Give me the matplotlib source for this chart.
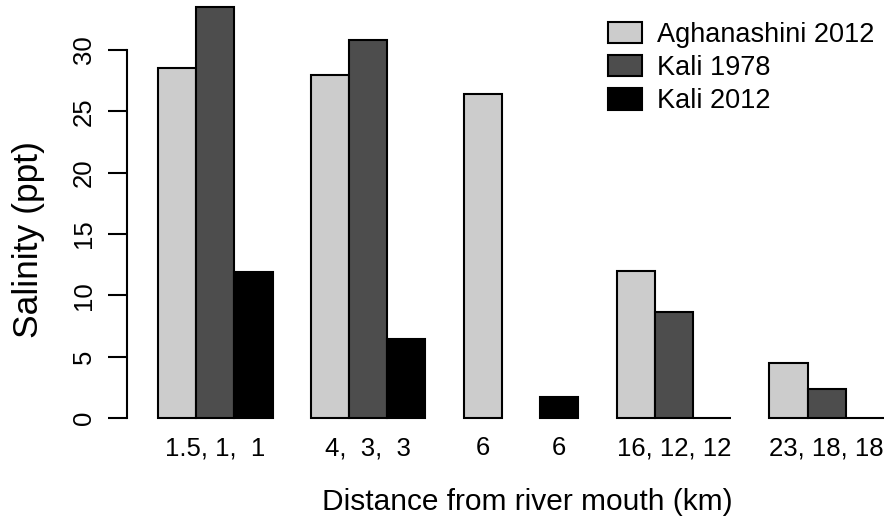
import matplotlib
matplotlib.use("Agg")
import matplotlib.pyplot as plt
from matplotlib.patches import Patch
import numpy as np

plt.rcParams['font.family'] = ['Liberation Sans', 'DejaVu Sans']

series = ["Aghanashini 2012", "Kali 1978", "Kali 2012"]
colors = ["#cccccc", "#4d4d4d", "#000000"]
# values per group (NaN = no bar)
aghanashini_2012 = [28.55, 28.0, 26.4, 12.0, 4.5]
kali_1978 = [33.5, 30.8, np.nan, 8.65, 2.4]
kali_2012 = [11.9, 6.4, 1.7, 0.0, 0.0]
values = [aghanashini_2012, kali_1978, kali_2012]

# tick labels: (group index, bar index or None for group centre, text)
tick_specs = [(0, None, "1.5, 1,  1"),
              (1, None, "4,  3,  3"),
              (2, 0, "6"),
              (2, 2, "6"),
              (3, None, "16, 12, 12"),
              (4, None, "23, 18, 18")]

W, H = 894, 523
fig = plt.figure(figsize=(W / 100, H / 100), dpi=100)

# pixel geometry
ax_left_px, ax_bottom_px = 127, 434.4
ax = fig.add_axes([ax_left_px / W, (H - ax_bottom_px) / H, (W - ax_left_px) / W, ax_bottom_px / H])

xpx = 38.21  # px per bar unit
x_first = 158
ax.set_xlim(1 - (x_first - ax_left_px) / xpx, 1 + (W - x_first) / xpx)
ypx = 12.267
y0 = 418
ax.set_ylim(-(ax_bottom_px - y0) / ypx, y0 / ypx)

ngroups = len(aghanashini_2012)
nser = len(series)
def bar_left(g, j):
    return 1 + g * (nser + 1) + j

for j, (vals, c) in enumerate(zip(values, colors)):
    for g, v in enumerate(vals):
        if np.isnan(v):
            continue
        ax.bar(bar_left(g, j), v, width=1, align='edge', color=c,
               edgecolor='black', linewidth=1.5, clip_on=False)

pos, labs = [], []
for g, b, t in tick_specs:
    if b is None:
        pos.append(bar_left(g, 0) + nser / 2)
    else:
        pos.append(bar_left(g, b) + 0.5)
    labs.append(t)
ax.set_xticks(pos)
ax.set_xticklabels(labs, fontsize=18.5)
ax.tick_params(axis='x', length=0, pad=1.5)

ax.set_yticks([0, 5, 10, 15, 20, 25, 30])
ax.tick_params(axis='y', length=13.7, width=1.5, pad=8.5, labelsize=18.5)
for lab in ax.get_yticklabels():
    lab.set_rotation(90)
    lab.set_va('center')

for s in ['top', 'right', 'bottom']:
    ax.spines[s].set_visible(False)
ax.spines['left'].set_bounds(0, 30)
ax.spines['left'].set_linewidth(1.5)
ax.set_facecolor('none')

ax.set_xlabel("Distance from river mouth (km)", fontsize=21.5)
ax.xaxis.set_label_coords((527 - ax_left_px) / (W - ax_left_px), (ax_bottom_px - 502) / ax_bottom_px)
ax.xaxis.label.set_va('center')
ax.set_ylabel("Salinity (ppt)", fontsize=25.5)
ax.yaxis.set_label_coords((29 - ax_left_px) / (W - ax_left_px), (ax_bottom_px - 240) / ax_bottom_px)
ax.yaxis.label.set_va('center')

handles = [Patch(facecolor=c, edgecolor='black', linewidth=1.5) for c in colors]
leg = ax.legend(handles, series, loc='upper left', bbox_to_anchor=(608 / W, 1 - 21.5 / H),
                bbox_transform=fig.transFigure, frameon=False, fontsize=19.5,
                borderpad=0, borderaxespad=0, handlelength=1.25, handleheight=0.85,
                handletextpad=0.55, labelspacing=0.265)

fig.savefig("out.png", dpi=100)
